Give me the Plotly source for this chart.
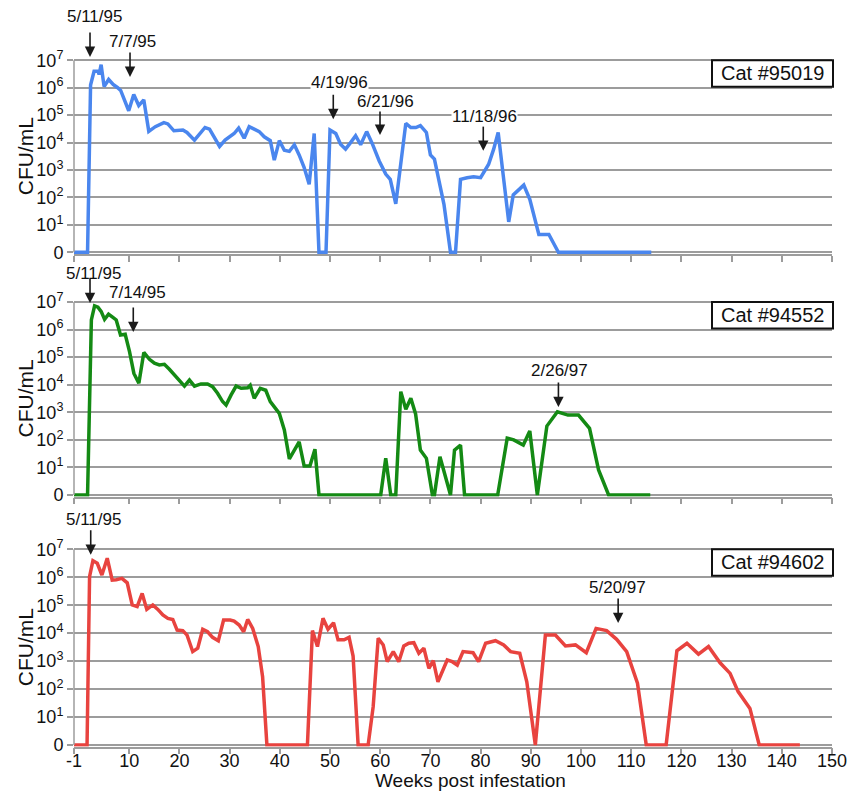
import plotly.graph_objects as go

# ---------------- data (log10 CFU/mL; 0 = no growth) ----------------
cat_names = ["Cat #95019", "Cat #94552", "Cat #94602"]

weeks_95019 = [-1, 1.7, 2.3, 3.0, 3.8, 4.0, 4.4, 5.0, 5.9, 6.8, 7.7, 8.3, 9.9, 10.9, 11.9, 12.9,
               13.9, 15.2, 16.9, 17.7, 18.9, 20.7, 21.5, 23.0, 25.1, 26.0, 28.0, 29.1, 30.9, 31.8,
               32.9, 33.9, 35.9, 36.9, 38.1, 38.9, 39.9, 40.9, 41.9, 42.9, 43.85, 44.85, 45.85,
               46.85, 47.8, 49.2, 50.0, 51.15, 52.1, 53.1, 54.1, 55.1, 56.1, 57.3, 58.4, 59.8,
               61.1, 62.0, 63.1, 64.1, 65.1, 66.1, 67.1, 68.0, 69.2, 70.0, 70.8, 72.7, 74.0, 75.0,
               76.0, 77.3, 78.6, 80.0, 80.6, 81.6, 82.6, 83.5, 84.6, 85.6, 86.5, 87.4, 88.6, 89.8,
               91.6, 93.6, 95.5, 114.0]
log_cfu_95019 = [0, 0, 6.1, 6.6, 6.6, 6.48, 6.84, 6.04, 6.3, 6.12, 6.0, 5.9, 5.16, 5.75, 5.35, 5.56,
                 4.41, 4.58, 4.73, 4.68, 4.43, 4.46, 4.37, 4.09, 4.55, 4.49, 3.86, 4.09, 4.33, 4.53,
                 4.16, 4.58, 4.40, 4.21, 4.07, 3.36, 4.07, 3.72, 3.68, 3.92, 3.55, 3.09, 2.48,
                 4.33, 0, 0, 4.46, 4.33, 3.94, 3.76, 4.0, 4.25, 3.92, 4.40, 3.97, 3.33,
                 2.85, 2.66, 1.77, 3.33, 4.70, 4.55, 4.55, 4.62, 4.37, 3.55, 3.40, 1.75, 0, 0,
                 2.66, 2.72, 2.75, 2.72, 2.9, 3.21, 3.76, 4.37, 2.66, 1.11, 2.09, 2.23, 2.45, 1.93,
                 0.65, 0.65, 0, 0]

weeks_94552 = [-1, 1.7, 2.46, 3.1, 3.77, 4.43, 5.09, 5.88, 6.75, 7.41, 8.27, 9.2, 10.06, 10.93,
               11.92, 12.91, 14.03, 15.02, 16.0, 17.0, 18.0, 19.0, 20.0, 21.0, 22.0, 23.0, 24.3,
               25.6, 26.6, 27.6, 28.6, 29.3, 30.3, 31.3, 32.3, 33.6, 34.1, 34.9, 36.1, 37.2, 38.1,
               39.9, 40.9, 41.9, 43.85, 44.85, 46.0, 47.0, 47.8, 60.1, 61.1, 62.1, 63.1, 64.1,
               65.1, 66.1, 67.05, 68.0, 69.2, 70.4, 70.8, 71.9, 73.0, 74.0, 74.8, 76.0, 76.8,
               83.4, 85.3, 86.6, 88.5, 89.8, 91.3, 93.2, 95.3, 97.4, 99.5, 101.7, 103.5, 105.5,
               113.8]
log_cfu_94552 = [0, 0, 6.35, 6.86, 6.81, 6.65, 6.37, 6.56, 6.44, 6.35, 5.80, 5.83, 5.20, 4.41,
                 4.05, 5.17, 4.92, 4.78, 4.72, 4.74, 4.56, 4.35, 4.15, 3.95, 4.17, 3.95, 4.03,
                 4.03, 3.93, 3.69, 3.39, 3.26, 3.63, 3.95, 3.87, 3.89, 3.98, 3.51, 3.87, 3.80, 3.39,
                 2.96, 2.36, 1.31, 1.93, 1.05, 1.05, 1.66, 0, 0, 1.33, 0, 0, 3.75,
                 3.11, 3.51, 2.94, 1.63, 1.33, 0, 0, 1.39, 0.66, 0, 1.63, 1.81, 0,
                 0, 2.06, 2.0, 1.81, 2.32, 0, 2.50, 3.02, 2.9, 2.9, 2.42, 0.91, 0,
                 0]

weeks_94602 = [-1, 1.6, 2.1, 2.77, 3.63, 4.56, 5.62, 6.61, 7.41, 8.54, 9.6, 10.6, 11.58, 12.58,
               13.5, 14.7, 15.7, 16.7, 17.7, 18.68, 19.54, 20.67, 21.52, 22.65, 23.65, 24.64,
               25.6, 26.6, 27.75, 28.8, 30.1, 30.9, 31.9, 32.8, 33.6, 34.6, 35.7, 36.57, 37.43,
               45.5, 46.5, 47.5, 48.6, 49.6, 50.7, 51.6, 52.8, 53.8, 54.6, 55.6, 57.6, 58.6,
               59.6, 60.6, 61.4, 62.6, 63.7, 64.7, 65.7, 66.7, 67.7, 68.7, 69.7, 70.57, 71.5,
               73.35, 74.35, 75.35, 76.5, 78.5, 79.6, 81.0, 82.96, 84.6, 85.97, 87.8, 89.2,
               90.9, 92.9, 94.9, 96.9, 98.9, 101.05, 103.0, 105.1, 107.1, 109.1, 111.25, 113.0,
               116.96, 119.1, 121.1, 123.4, 125.4, 127.7, 129.7, 131.3, 133.65, 135.5, 143.6]
log_cfu_94602 = [0, 0, 6.02, 6.59, 6.50, 6.08, 6.68, 5.90, 5.91, 5.96, 5.80, 5.01, 4.95, 5.42,
                 4.85, 5.01, 4.85, 4.65, 4.53, 4.49, 4.11, 4.09, 3.93, 3.34, 3.46, 4.14,
                 4.05, 3.85, 3.73, 4.47, 4.47, 4.43, 4.29, 4.05, 4.49, 4.17, 3.52, 2.44, 0,
                 0, 4.09, 3.52, 4.53, 4.14, 4.37, 3.76, 3.76, 3.85, 3.18, 0, 0, 1.37,
                 3.82, 3.58, 2.98, 3.34, 2.98, 3.54, 3.64, 3.66, 3.28, 3.46, 2.74, 3.02, 2.26,
                 3.04, 2.98, 2.86, 3.34, 3.30, 2.98, 3.64, 3.73, 3.58, 3.34, 3.28, 2.26,
                 0, 3.93, 3.93, 3.54, 3.58, 3.30, 4.17, 4.09, 3.78, 3.34, 2.21, 0,
                 0, 3.37, 3.64, 3.25, 3.52, 2.94, 2.56, 1.91, 1.31, 0, 0]

# date markers: (label, week of arrow, arrow tip level, label week, label level)
events_95019 = [("5/11/95", 2.19, 7.12, 3.08, 8.58), ("7/7/95", 10.16, 6.39, 10.65, 7.67),
                ("4/19/96", 50.65, 4.85, 51.8, 6.18), ("6/21/96", 59.96, 4.28, 61.15, 5.49),
                ("11/18/96", 80.53, 3.70, 80.87, 4.94)]
events_94552 = [("5/11/95", 2.19, 6.96, 2.98, 8.02), ("7/14/95", 10.81, 5.91, 11.55, 7.36),
                ("2/26/97", 95.5, 3.19, 95.8, 4.50)]
events_94602 = [("5/11/95", 2.33, 6.80, 2.98, 8.08), ("5/20/97", 107.4, 4.36, 107.3, 5.62)]

x_tickvals = [-1, 10, 20, 30, 40, 50, 60, 70, 80, 90, 100, 110, 120, 130, 140, 150]
x_ticktext = [str(v) for v in x_tickvals]
y_tickvals = [0, 1, 2, 3, 4, 5, 6, 7]
y_ticktext = ["0"] + ["10<sup>%d</sup>" % k for k in range(1, 8)]

# ---------------- layout geometry ----------------
W, H = 860, 791
ML, MR, MT, MB = 74, 28, 0, 44
PH = H - MT - MB
FONT = "Liberation Sans, Arial, Helvetica, sans-serif"
GRID = "#9c9c9c"

# (zero_px, px per decade, top_px) for each panel
panels = [(252.3, 27.43, 0.0), (495.0, 27.57, 262.0), (745.0, 27.96, 512.0)]
colors = ["#4a86ee", "#148a14", "#e8433f"]
series = [(weeks_95019, log_cfu_95019), (weeks_94552, log_cfu_94552), (weeks_94602, log_cfu_94602)]
events = [events_95019, events_94552, events_94602]

fig = go.Figure()
annotations = []
shapes = []

for i, ((zero, unit, top), col, (wx, wy), ev, name) in enumerate(
        zip(panels, colors, series, events, cat_names)):
    n = "" if i == 0 else str(i + 1)
    bottom = zero + 1.6
    dom = [(H - MB - bottom) / PH, (H - MB - top) / PH]
    yr = [-(bottom - zero) / unit, (zero - top) / unit]
    fig.add_trace(go.Scatter(x=wx, y=wy, mode="lines", line=dict(color=col, width=3.5),
                             xaxis="x" + n, yaxis="y" + n, showlegend=False,
                             hoverinfo="x+y"))
    fig.layout["xaxis" + n] = dict(
        domain=[0, 1], range=[-1, 150], anchor="y" + n, showgrid=False, zeroline=False,
        showline=True, linecolor=GRID, linewidth=1.5, ticks="outside", ticklen=6,
        tickcolor=GRID, tickwidth=1.5, tickmode="array", tickvals=x_tickvals,
        ticktext=x_ticktext, showticklabels=(i == 2), ticklabelstandoff=-9,
        tickfont=dict(family=FONT, size=18, color="#111"))
    fig.layout["yaxis" + n] = dict(
        domain=dom, range=yr, anchor="x" + n, showgrid=True, gridcolor=GRID, gridwidth=1.5,
        zeroline=False, showline=False, ticks="outside", ticklen=6, tickcolor=GRID,
        tickwidth=1.5, tickmode="array", tickvals=y_tickvals, ticktext=y_ticktext,
        tickfont=dict(family=FONT, size=18, color="#111"))
    # left spine from 0 to 10^7
    shapes.append(dict(type="line", xref="paper", yref="y" + n, x0=0, x1=0, y0=0, y1=7,
                       line=dict(color=GRID, width=1.5)))
    # cat label box
    x0p = (712 - ML) / (W - ML - MR)
    x1p = (833 - ML) / (W - ML - MR)
    shapes.append(dict(type="rect", xref="paper", yref="y" + n, x0=x0p, x1=x1p,
                       y0=7 - 26.4 / unit, y1=7, fillcolor="white",
                       line=dict(color="#111", width=2)))
    annotations.append(dict(xref="paper", yref="y" + n, x=(x0p + x1p) / 2,
                            y=7 - 13.2 / unit, text=name, showarrow=False,
                            font=dict(family=FONT, size=20, color="#111"),
                            xanchor="center", yanchor="middle"))
    # y axis title
    annotations.append(dict(xref="paper", yref="y" + n, x=(25 - ML) / (W - ML - MR), y=3.5,
                            text="CFU/mL", textangle=-90, showarrow=False,
                            font=dict(family=FONT, size=21, color="#111"),
                            xanchor="center", yanchor="middle"))
    for (lab, ax_w, tip, lx, ly) in ev:
        annotations.append(dict(xref="x" + n, yref="y" + n, x=ax_w, y=tip, text="",
                                showarrow=True, ax=0, ay=-26, arrowhead=2, arrowsize=1.3,
                                arrowwidth=1.6, arrowcolor="#1a1a1a"))
        annotations.append(dict(xref="x" + n, yref="y" + n, x=lx, y=ly, text=lab,
                                showarrow=False, xanchor="center", yanchor="middle",
                                bgcolor="white" if i == 0 else "rgba(0,0,0,0)",
                                borderpad=0,
                                font=dict(family=FONT, size=17, color="#111")))

annotations.append(dict(xref="paper", yref="paper", x=(470 - ML) / (W - ML - MR),
                        y=(H - MB - 780) / PH, text="Weeks post infestation",
                        showarrow=False, xanchor="center", yanchor="middle",
                        font=dict(family=FONT, size=19, color="#111")))

fig.update_layout(width=W, height=H, margin=dict(l=ML, r=MR, t=MT, b=MB),
                  paper_bgcolor="white", plot_bgcolor="white",
                  annotations=annotations, shapes=shapes,
                  font=dict(family=FONT, color="#111"))

fig.write_html("out.html", config={"displayModeBar": False},
               post_script="document.body.style.margin='0px';document.body.style.overflow='hidden';")
